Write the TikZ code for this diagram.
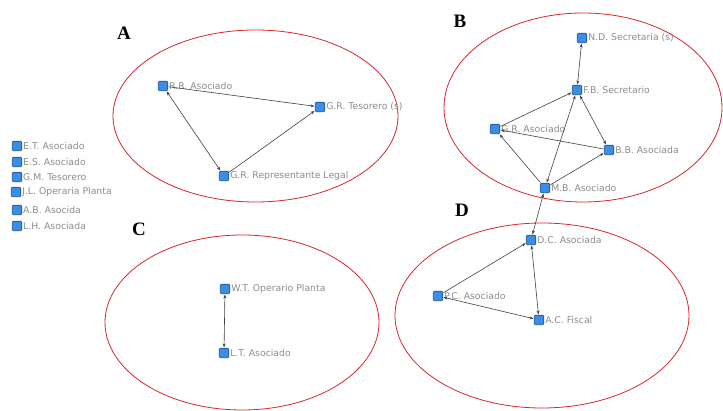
\documentclass[tikz,border=0pt]{standalone}
\usepackage{fontspec}
\setmainfont{Liberation Serif}
\newfontfamily\lblfont{DejaVu Sans}
\usetikzlibrary{arrows.meta}
\definecolor{actfill}{HTML}{3A8EE8}
\definecolor{actline}{HTML}{1D4F8C}
\definecolor{grupo}{HTML}{D8262E}
\definecolor{txtgris}{HTML}{8C8C8C}
\tikzset{
	actor/.style={draw=actline, fill=actfill, line width=0.6pt, minimum size=9.5pt, inner sep=0pt, rounded corners=1pt},
	lbl/.style={text=txtgris, font=\lblfont\fontsize{9.3}{10}\selectfont, inner sep=1pt},
	rel/.style={draw=black!75, line width=0.6pt, shorten >=0.5pt, shorten <=0.5pt},
	grupo/.style={draw=grupo, line width=0.8pt},
	letra/.style={font=\bfseries\fontsize{19}{19}\selectfont}
}
\begin{document}
\begin{tikzpicture}[x=1pt, y=-1pt, >={Stealth[length=4pt,width=3pt]}]
	\useasboundingbox (0,0) rectangle (723,411);
	% grupos
	\draw[grupo] (255.5,116) ellipse (142.5 and 86);
	\draw[grupo] (583,107.5) ellipse (139 and 94.5);
	\draw[grupo] (242,322.5) ellipse (137 and 87.5);
	\draw[grupo] (542,315.5) ellipse (147 and 92.5);
	\node[letra] (la) at (124,33) {A};
	\node[letra] (lb) at (460,21) {B};
	\node[letra] (lc) at (139,229) {C};
	\node[letra] (ld) at (462,210) {D};
	% actores aislados
	\node[actor, label={[lbl]right:E.T. Asociado}] (et) at (17,146) {};
	\node[actor, label={[lbl]right:E.S. Asociado}] (es) at (17,162) {};
	\node[actor, label={[lbl]right:G.M. Tesorero}] (gm) at (17,177) {};
	\node[actor, label={[lbl]right:J.L. Operaria Planta}] (jl) at (16,192) {};
	\node[actor, label={[lbl]right:A.B. Asocida}] (ab) at (17,210) {};
	\node[actor, label={[lbl]right:L.H. Asociada}] (lh) at (17,226) {};
	% grupo A
	\node[actor, label={[lbl]right:R.R. Asociado}] (rr) at (163,86) {};
	\node[actor, label={[lbl]right:G.R. Tesorero (s)}] (grt) at (320,107) {};
	\node[actor, label={[lbl]right:G.R. Representante Legal}] (grl) at (224,176) {};
	\draw[rel, <->] (rr) -- (grl);
	\draw[rel, ->] (rr) -- (grt);
	\draw[rel, ->] (grl) -- (grt);
	% grupo B
	\node[actor, label={[lbl]right:N.D. Secretaria (s)}] (nd) at (582,38) {};
	\node[actor, label={[lbl]right:F.B. Secretario}] (fb) at (577,90) {};
	\node[actor, label={[lbl]right:G.R. Asociado}] (gra) at (495,129) {};
	\node[actor, label={[lbl]right:B.B. Asociada}] (bb) at (609,150) {};
	\node[actor, label={[lbl]right:M.B. Asociado}] (mb) at (545,188) {};
	\draw[rel, <->] (nd) -- (fb);
	\draw[rel, ->] (gra) -- (fb);
	\draw[rel, <->] (fb) -- (bb);
	\draw[rel, ->] (bb) -- (gra);
	\draw[rel, ->] (mb) -- (gra);
	\draw[rel, ->] (mb) -- (bb);
	\draw[rel, <->] (mb) -- (fb);
	% grupo C
	\node[actor, label={[lbl]right:W.T. Operario Planta}] (wt) at (225,289) {};
	\node[actor, label={[lbl]right:L.T. Asociado}] (lt) at (224,353) {};
	\draw[rel, <->] (wt) -- (lt);
	% grupo D
	\node[actor, label={[lbl]right:D.C. Asociada}] (dc) at (531,240) {};
	\node[actor, label={[lbl]right:P.C. Asociado}] (pc) at (438,296) {};
	\node[actor, label={[lbl]right:A.C. Fiscal}] (ac) at (539,320) {};
	\draw[rel, <->] (mb) -- (dc);
	\draw[rel, ->] (pc) -- (dc);
	\draw[rel, <->] (dc) -- (ac);
	\draw[rel, <->] (pc) -- (ac);
\end{tikzpicture}
\end{document}
